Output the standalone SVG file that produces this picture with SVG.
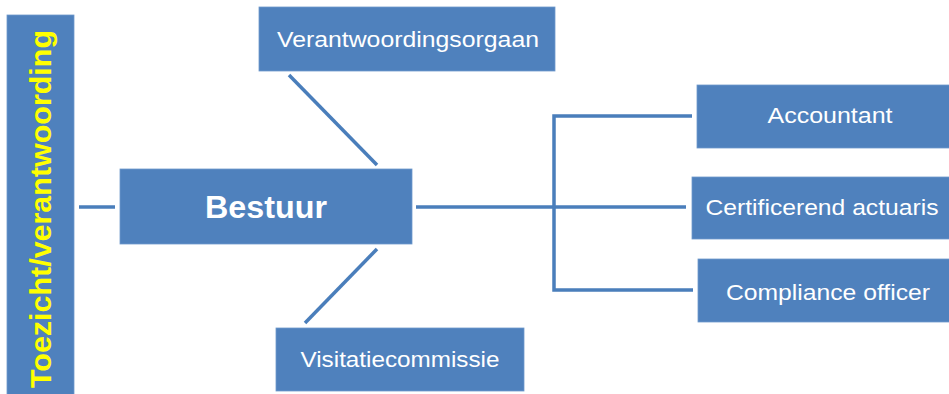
<svg xmlns="http://www.w3.org/2000/svg" width="949" height="394" viewBox="0 0 949 394">
<style>
.box{fill:#4F81BD;stroke:#6f99cc;stroke-width:0.8}
.t{font-family:"Liberation Sans",Arial,sans-serif;fill:#ffffff;font-size:22px;text-anchor:middle}
.c{stroke:#4A7EBB;stroke-width:3.5;fill:none}
</style>
<rect width="949" height="394" fill="#ffffff"/>
<g id="connectors">
<line class="c" x1="79" y1="207" x2="115" y2="207"/>
<line class="c" x1="289" y1="75" x2="377" y2="165"/>
<line class="c" x1="377" y1="249" x2="305" y2="323"/>
<line class="c" x1="416" y1="207" x2="686" y2="207"/>
<polyline class="c" points="692,116 554,116 554,290 693,290"/>
</g>
<g id="toezicht">
<rect class="box" x="7" y="15" width="67" height="381"/>
<text transform="translate(51,209) rotate(-90)" font-family="Liberation Sans,Arial,sans-serif" font-size="30" font-weight="bold" fill="#FFFF00" text-anchor="middle" textLength="358" lengthAdjust="spacingAndGlyphs">Toezicht/verantwoording</text>
</g>
<g id="bestuur">
<rect class="box" x="120" y="169" width="292" height="75"/>
<text class="t" x="266" y="218" font-weight="bold" style="font-size:32px" textLength="122" lengthAdjust="spacingAndGlyphs">Bestuur</text>
</g>
<g id="verantwoordingsorgaan">
<rect class="box" x="259" y="7" width="296" height="64"/>
<text class="t" x="408" y="47" textLength="262" lengthAdjust="spacingAndGlyphs">Verantwoordingsorgaan</text>
</g>
<g id="visitatiecommissie">
<rect class="box" x="276" y="328" width="248" height="63"/>
<text class="t" x="400" y="367" textLength="199" lengthAdjust="spacingAndGlyphs">Visitatiecommissie</text>
</g>
<g id="accountant">
<rect class="box" x="697" y="85" width="260" height="63"/>
<text class="t" x="830" y="123" textLength="125" lengthAdjust="spacingAndGlyphs">Accountant</text>
</g>
<g id="actuaris">
<rect class="box" x="692" y="177" width="265" height="62"/>
<text class="t" x="822" y="215" textLength="233" lengthAdjust="spacingAndGlyphs">Certificerend actuaris</text>
</g>
<g id="compliance">
<rect class="box" x="698" y="259" width="260" height="63"/>
<text class="t" x="828" y="300" textLength="204" lengthAdjust="spacingAndGlyphs">Compliance officer</text>
</g>
</svg>
